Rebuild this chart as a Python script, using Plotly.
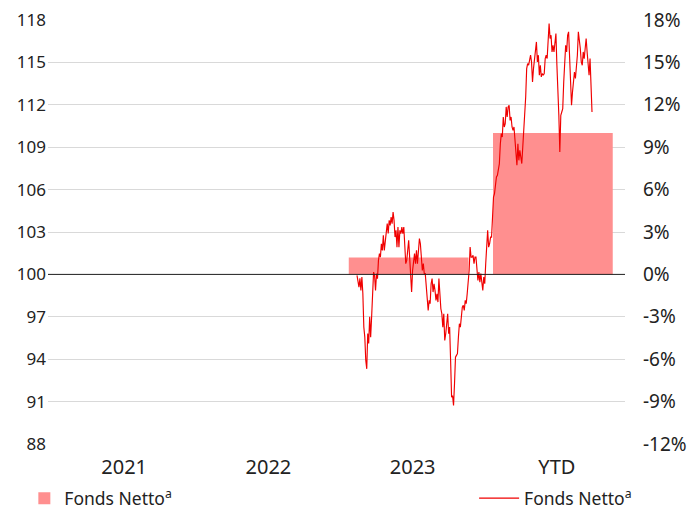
import plotly.graph_objects as go

# ---- data ----
categories = ["2021", "2022", "2023", "YTD"]
bar_returns_pct = [None, None, 1.2, 10.0]
bar_base_index = 100

left_ticks = [88, 91, 94, 97, 100, 103, 106, 109, 112, 115, 118]
right_tickvals = [-12, -9, -6, -3, 0, 3, 6, 9, 12, 15, 18]
right_ticktext = ["-12%", "-9%", "-6%", "-3%", "0%", "3%", "6%", "9%", "12%", "15%", "18%"]

series_name = "Fonds Netto<sup>a</sup>"

index_values = [
    99.93, 99.58, 99.10, 99.72, 98.87, 99.81, 98.65, 96.27, 95.56, 93.91,
    93.32, 95.82, 95.11, 97.01, 95.56, 97.01, 98.16, 100.16, 99.93, 98.87,
    100.05, 99.70, 100.99, 101.47, 101.22, 102.17, 101.70, 102.76, 101.70, 102.41,
    103.35, 103.59, 102.90, 103.82, 103.47, 104.06, 103.59, 104.41, 103.82, 102.64,
    103.12, 101.93, 103.35, 101.93, 103.12, 102.88, 103.35, 102.88, 103.35, 101.93,
    100.76, 100.99, 102.05, 102.41, 101.20, 99.93, 98.75, 100.28, 101.22, 101.47,
    100.76, 101.70, 100.76, 101.58, 102.53, 102.17, 100.76, 100.28, 100.76, 100.05,
    100.05, 99.10, 97.68, 97.45, 98.16, 97.93, 99.34, 99.70, 98.75, 99.34,
    98.87, 98.16, 98.63, 98.04, 99.70, 98.39, 97.57, 97.22, 96.27, 97.22,
    95.33, 95.80, 96.74, 97.22, 95.80, 96.27, 93.91, 91.31, 91.43, 90.73,
    92.26, 94.14, 94.27, 94.39, 95.56, 96.51, 96.27, 96.98, 97.68, 97.81,
    97.45, 98.16, 97.93, 98.63, 99.34, 100.28, 101.93,
    101.22, 101.22, 101.35, 100.76, 101.22, 101.22, 100.28, 99.58, 100.16, 99.45,
    100.05, 99.34, 98.87, 99.81, 99.34, 100.76, 102.41, 103.12, 101.93, 102.17,
    102.64, 102.64, 104.06, 105.47, 105.71, 106.42, 106.89, 107.01, 107.36, 107.84,
    109.25, 109.96, 109.72, 111.14, 110.43, 110.67, 111.85, 111.14, 111.85, 111.97,
    110.90, 111.14, 110.43, 110.20, 110.43, 109.37, 108.55, 107.72, 109.25, 108.07,
    108.78, 108.07, 107.84, 109.01, 109.96, 111.14, 112.55,
    114.56, 114.92, 114.80, 115.27, 115.51, 115.03, 113.62, 114.56, 115.27, 116.21,
    116.45, 115.03, 115.51, 114.09, 114.80, 113.97, 114.21, 114.09, 114.21, 115.27,
    115.51, 115.27, 116.69, 117.75, 116.69, 116.92, 115.74, 116.21, 115.74, 116.45,
    117.04, 114.80, 111.97, 111.26, 108.66, 111.26, 111.49, 111.73, 113.62, 115.51,
    116.21, 115.74, 116.92, 117.16, 115.03, 113.15, 111.97, 112.91, 113.62, 114.32,
    113.86, 114.56, 115.51, 117.16, 116.69, 115.98, 115.03, 114.80, 115.74, 115.27,
    115.98, 116.69, 115.74, 114.80, 114.09, 115.27, 113.62, 111.49,
]

# ---- layout geometry ----
W, H = 699, 511
ML, MR, MT, MB = 48, 74, 20, 67
plot_w = W - ML - MR
# line spans these fractions of the plot width
f0 = (357 - ML) / plot_w
f1 = (592 - ML) / plot_w
n = len(index_values)
span = (n - 1) / (f1 - f0)
x2_lo = -f0 * span
x2_hi = x2_lo + span

FONT = "Noto Sans"
TXT = "#222222"

fig = go.Figure()

fig.add_trace(go.Bar(
    x=categories, y=bar_returns_pct, base=bar_base_index, name=series_name,
    marker=dict(color="#ff8f8f", line=dict(width=0)),
    width=0.83, xaxis="x", yaxis="y", legend="legend",
))

fig.add_trace(go.Scatter(
    x=list(range(n)), y=index_values, name=series_name, mode="lines",
    line=dict(color="#f00000", width=1.15), xaxis="x2", yaxis="y",
    legend="legend2",
))

# empty helper trace so the right-hand percentage axis is drawn
fig.add_trace(go.Scatter(
    x=[], y=[], xaxis="x", yaxis="y2", showlegend=False, hoverinfo="skip",
))

fig.add_shape(
    type="line", xref="paper", yref="y", x0=0, x1=1,
    y0=bar_base_index, y1=bar_base_index,
    line=dict(color="#222222", width=1), layer="above",
)

fig.update_layout(
    width=W, height=H,
    margin=dict(l=ML, r=MR, t=MT, b=MB, autoexpand=False),
    paper_bgcolor="white", plot_bgcolor="white",
    font=dict(family=FONT, size=17, color=TXT),
    xaxis=dict(
        type="category", showgrid=False, zeroline=False, showline=False,
        ticks="", tickfont=dict(size=20, color=TXT), ticklabelstandoff=9,
        ticklabelshift=4, automargin=False, range=[-0.5, 3.5],
    ),
    xaxis2=dict(
        overlaying="x", range=[x2_lo, x2_hi], visible=False,
        showgrid=False, zeroline=False, automargin=False,
    ),
    yaxis=dict(
        range=[88, 118], tickvals=left_ticks, showgrid=True,
        gridcolor="#d9d9d9", gridwidth=1, zeroline=False, showline=False,
        ticks="", tickfont=dict(size=17, color=TXT), ticklabelstandoff=1,
        automargin=False,
    ),
    yaxis2=dict(
        range=[-12, 18], overlaying="y", side="right", anchor="x",
        tickvals=right_tickvals, ticktext=right_ticktext,
        showgrid=False, zeroline=False, showline=False, ticks="",
        tickfont=dict(size=19, color=TXT), ticklabelstandoff=17,
        automargin=False,
    ),
    legend=dict(
        x=-0.041, y=-0.128, xanchor="left", yanchor="middle",
        orientation="h", font=dict(size=17.5, color=TXT),
        bgcolor="rgba(0,0,0,0)", itemwidth=30,
    ),
    legend2=dict(
        x=1.021, y=-0.128, xanchor="right", yanchor="middle",
        orientation="h", font=dict(size=17.5, color=TXT),
        bgcolor="rgba(0,0,0,0)", itemwidth=40,
    ),
    showlegend=True,
)

fig.write_html(
    "out.html",
    config={"displayModeBar": False},
    post_script="document.body.style.margin='0px';document.body.style.overflow='hidden';",
)
